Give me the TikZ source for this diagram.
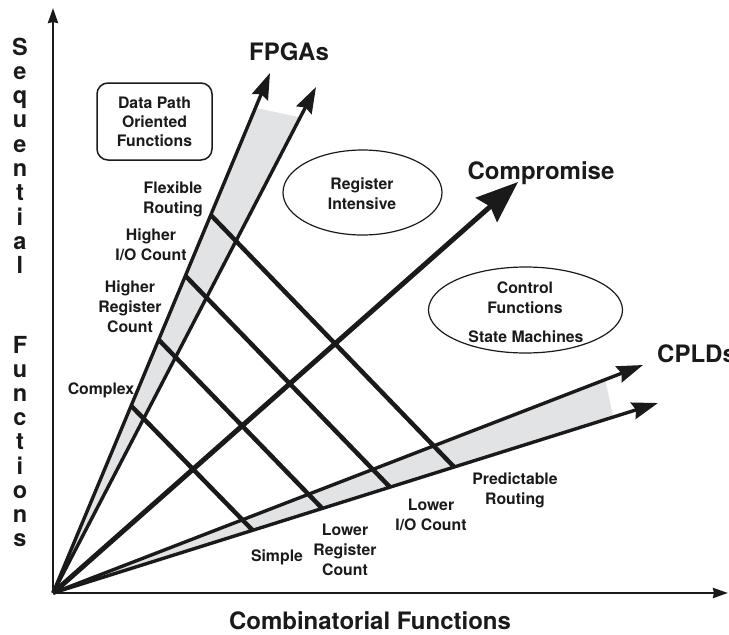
\documentclass[tikz,border=0pt]{standalone}
\usepackage{fontspec}
\setmainfont{TeX Gyre Heros}
\usetikzlibrary{arrows.meta,calc,shapes.geometric}
\definecolor{bandgray}{HTML}{E1E3E5}
\definecolor{ink}{HTML}{1A1A1A}

\begin{document}
\begin{tikzpicture}[x=1pt,y=-1pt,
  axisline/.style={ink,line width=2.6pt,-{Stealth[length=15pt,width=10pt,inset=1pt]}},
  bandline/.style={ink,line width=3.4pt,-{Stealth[length=26pt,width=17pt,inset=3pt]}},
  bigarrow/.style={ink,line width=5pt,-{Stealth[length=42pt,width=32pt,inset=5pt]}},
  rung/.style={ink,line width=4.5pt},
  band/.style={fill=bandgray},
  lbl/.style={text=ink,font=\bfseries\fontsize{15.8}{20}\selectfont,align=center,inner sep=0pt},
  title/.style={text=ink,font=\bfseries\fontsize{24}{28}\selectfont,inner sep=0pt,anchor=base},
  axisletter/.style={text=ink,font=\bfseries\fontsize{23.5}{24}\selectfont,inner sep=0pt,anchor=base},
  oval/.style={draw=ink,line width=1.2pt,ellipse,inner sep=0pt}
]
\useasboundingbox (0,0) rectangle (729,635);
\clip (0,0) rectangle (729,635);

% origin and arrow tips
\coordinate (O)  at (53,593);
\coordinate (fl) at (270,73);
\coordinate (fr) at (316,87);
\coordinate (cu) at (643,365);
\coordinate (cl) at (658,403);
\coordinate (cp) at (518,182);
\coordinate (yt) at (53,8);
\coordinate (xt) at (728,593);

% shaded bands
\fill[band] (O) -- ($(O)!0.933!(fl)$) -- ($(O)!0.94!(fr)$) -- cycle;
\fill[band] (O) -- ($(O)!0.936!(cu)$) -- ($(O)!0.926!(cl)$) -- cycle;

% cross lines from the FPGA edge to the CPLD edge
\foreach \a/\b [count=\i] in {0.36/0.33,0.487/0.445,0.61/0.557,0.727/0.663}{
  \coordinate (ra\i) at ($(O)!\a!(fl)$);
  \coordinate (rb\i) at ($(O)!\b!(cl)$);
  \draw[rung] (ra\i) -- (rb\i);
}

% band edges and compromise
\draw[bandline] (O) -- (fl);
\draw[bandline] (O) -- (fr);
\draw[bandline] (O) -- (cu);
\draw[bandline] (O) -- (cl);
\draw[bigarrow] (O) -- (cp);

% axes
\draw[axisline] (O) -- (yt);
\draw[axisline] (O) -- (xt);

% headings
\node[title] (fpga) at (289,60) {FPGAs};
\node[title] (comp) at (541,179) {Compromise};
\node[title,anchor=base west] (cpld) at (657,362) {CPLDs};
\node[title] (xlab) at (370,629) {Combinatorial Functions};

% vertical axis label
\foreach \c [count=\k from 0] in {S,e,q,u,e,n,t,i,a,l}
  \node[axisletter] (sq\k) at (20,55+24.3*\k) {\c};
\foreach \c [count=\k from 0] in {F,u,n,c,t,i,o,n,s}
  \node[axisletter] (fn\k) at (20,353.5+24.1*\k) {\c};

% regions
\node[draw=ink,line width=1.5pt,rounded corners=11pt,minimum width=115pt,minimum height=77pt,
      lbl,font=\bfseries\fontsize{15.8}{19}\selectfont] (dp) at (154.5,121.5)
      {Data Path\\Oriented\\Functions};
\node[oval,minimum width=159pt,minimum height=85pt] (reg) at (362.5,192.5) {};
\node[lbl] (regt) at (362,194) {Register\\Intensive};
\node[oval,minimum width=194pt,minimum height=86pt] (ctl) at (525.5,310) {};
\node[lbl] (ctlt) at (525,298) {Control\\Functions};
\node[lbl] (stm) at (526,337) {State Machines};

% FPGA side labels
\node[lbl] (l1) at (173,199) {Flexible\\Routing};
\node[lbl] (l2) at (151,245) {Higher\\I/O Count};
\node[lbl] (l3) at (130,307) {Higher\\Register\\Count};
\node[lbl] (l4) at (101,390) {Complex};

% CPLD side labels
\node[lbl] (r1) at (277,557) {Simple};
\node[lbl] (r2) at (345,550) {Lower\\Register\\Count};
\node[lbl] (r3) at (431,515) {Lower\\I/O Count};
\node[lbl] (r4) at (515,490) {Predictable\\Routing};
\end{tikzpicture}
\end{document}
